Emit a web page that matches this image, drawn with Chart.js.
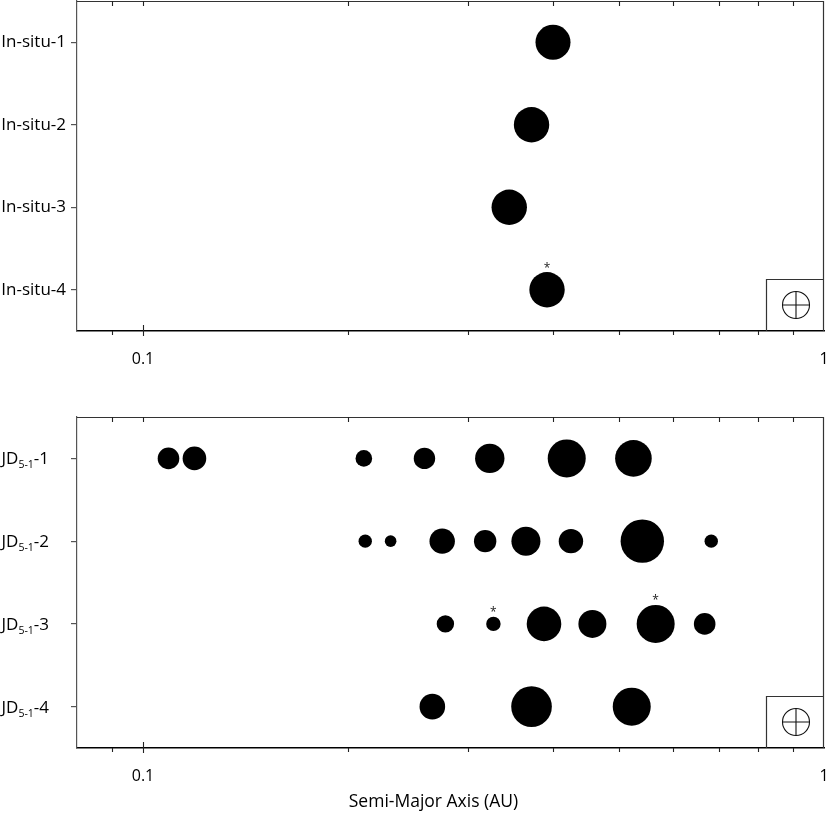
<!DOCTYPE html>
<html><head><meta charset="utf-8">
<script src="https://cdn.jsdelivr.net/npm/chart.js@4.4.0/dist/chart.umd.min.js"></script>
<style>
html,body{margin:0;padding:0;background:#fff;}
#wrap{position:relative;width:830px;height:820px;overflow:hidden;background:#fff;}
#c1{position:absolute;left:0;top:0;}
#c2{position:absolute;left:0;top:400px;}
</style></head><body>
<div id="wrap"><canvas id="c1" width="830" height="400"></canvas><canvas id="c2" width="830" height="420"></canvas></div>
<script>
// ---- DATA ----
const topCategories = ['In-situ-1', 'In-situ-2', 'In-situ-3', 'In-situ-4'];
// bottom labels: [main, subscript, suffix]
const bottomCategories = [['JD', '5-1', '-1'], ['JD', '5-1', '-2'], ['JD', '5-1', '-3'], ['JD', '5-1', '-4']];

// semi-major axis (AU) and relative planet size (bubble r)
const inSituA = [0.400, 0.372, 0.345, 0.392];
const inSituSize = [17.5, 17.7, 17.7, 17.7];
const inSituStar = [false, false, false, true];

const jd1A = [0.109, 0.119, 0.211, 0.259, 0.323, 0.419, 0.525];
const jd1Size = [10.8, 11.8, 8.3, 10.7, 14.7, 19.0, 18.3];
const jd2A = [0.212, 0.231, 0.275, 0.318, 0.365, 0.425, 0.541, 0.683];
const jd2Size = [6.7, 5.8, 12.7, 11.2, 14.5, 12.2, 21.7, 6.7];
const jd3A = [0.278, 0.327, 0.388, 0.457, 0.566, 0.668];
const jd3Size = [8.7, 7.2, 17.3, 14.0, 19.0, 10.8];
const jd3Star = [false, true, false, false, true, false];
const jd4A = [0.266, 0.372, 0.522];
const jd4Size = [12.8, 20.3, 19.0];

const xTickValues = [0.09, 0.1, 0.2, 0.3, 0.4, 0.5, 0.6, 0.7, 0.8, 0.9, 1];
const xMajorTicks = [0.1, 1];
const xTickLabels = {0.1: '0.1', 1: '1'};
const xTitle = 'Semi-Major Axis (AU)';

// ---- CHARTS ----
const FONT = '"Open Sans", "Noto Sans", sans-serif';

function pts(aArr, sArr, label) {
  return aArr.map((a, i) => ({x: a, y: label, r: sArr[i]}));
}

const decorPlugin = {
  id: 'decor',
  afterDraw(chart) {
    const ctx = chart.ctx, ca = chart.chartArea, xs = chart.scales.x;
    const cfg = chart.options.plugins.decor;
    ctx.save();
    // top & right border
    ctx.strokeStyle = '#333'; ctx.lineWidth = 1.2;
    ctx.beginPath();
    ctx.moveTo(ca.left, ca.top + 0.5); ctx.lineTo(ca.right, ca.top + 0.5);
    ctx.moveTo(ca.right - 0.5, ca.top); ctx.lineTo(ca.right - 0.5, ca.bottom);
    ctx.stroke();
    // x ticks (inward on top, outward on bottom)
    ctx.strokeStyle = '#222'; ctx.lineWidth = 1.1;
    ctx.beginPath();
    xTickValues.forEach(v => {
      if (v >= 1) return;
      const px = Math.round(xs.getPixelForValue(v)) + 0.5;
      const major = xMajorTicks.includes(v);
      ctx.moveTo(px, ca.top); ctx.lineTo(px, ca.top + 5);
      if (major) { ctx.moveTo(px, ca.bottom - 6); ctx.lineTo(px, ca.bottom + 5); }
      else { ctx.moveTo(px, ca.bottom); ctx.lineTo(px, ca.bottom + 4); }
    });
    ctx.stroke();
    // Earth symbol box
    const bw = 58, bh = 52;
    const bx = ca.right - bw, by = ca.bottom - bh;
    ctx.strokeStyle = '#333'; ctx.lineWidth = 1.2;
    ctx.beginPath();
    ctx.moveTo(bx + 0.5, ca.bottom); ctx.lineTo(bx + 0.5, by + 0.5); ctx.lineTo(ca.right, by + 0.5);
    ctx.stroke();
    const cx = bx + bw / 2 + 1, cy = by + bh / 2;
    const rr = 13.5;
    ctx.strokeStyle = '#111'; ctx.lineWidth = 1.1;
    ctx.beginPath(); ctx.arc(cx, cy, rr, 0, Math.PI * 2); ctx.stroke();
    ctx.beginPath();
    ctx.moveTo(cx - rr, cy); ctx.lineTo(cx + rr, cy);
    ctx.moveTo(cx, cy - rr); ctx.lineTo(cx, cy + rr);
    ctx.stroke();
    // asterisks
    ctx.fillStyle = '#222';
    ctx.font = '12px ' + FONT;
    ctx.textAlign = 'center'; ctx.textBaseline = 'alphabetic';
    const stars = cfg.stars || [];
    stars.forEach((flags, di) => {
      const meta = chart.getDatasetMeta(di);
      flags.forEach((f, j) => {
        if (!f) return;
        const el = meta.data[j];
        const r = el.options.radius;
        ctx.fillText('*', el.x, el.y - r - 0.5);
      });
    });
    // rich y labels (with subscript)
    const rich = cfg.richLabels;
    if (rich) {
      const ys = chart.scales.y;
      ctx.fillStyle = '#000';
      ctx.textAlign = 'left'; ctx.textBaseline = 'alphabetic';
      rich.forEach((parts, i) => {
        const yPix = ys.getPixelForTick(i);
        ctx.font = '17px ' + FONT;
        const w1 = ctx.measureText(parts[0]).width;
        const w3 = ctx.measureText(parts[2]).width;
        ctx.font = '10.5px ' + FONT;
        const w2 = ctx.measureText(parts[1]).width;
        const right = ys.right - 28;
        let x = right - (w1 + w2 + w3);
        const base = yPix + 6;
        ctx.font = '17px ' + FONT;
        ctx.fillText(parts[0], x, base); x += w1;
        ctx.font = '10.5px ' + FONT;
        ctx.fillText(parts[1], x, base + 4); x += w2;
        ctx.font = '17px ' + FONT;
        ctx.fillText(parts[2], x, base);
      });
    }
    // x-axis title (slightly left of the plot centre, as in the figure)
    if (cfg.title) {
      ctx.fillStyle = '#000';
      ctx.font = '17.5px ' + FONT;
      ctx.textAlign = 'center'; ctx.textBaseline = 'middle';
      ctx.fillText(cfg.title, (ca.left + ca.right) / 2 - 17, chart.height - 18);
    }
    ctx.restore();
  }
};

function makeOptions(opts) {
  return {
    responsive: false,
    animation: false,
    events: [],
    layout: {autoPadding: false, padding: {left: 0, right: 6, top: opts.padTop, bottom: 0}},
    plugins: {
      legend: {display: false},
      tooltip: {enabled: false},
      decor: {stars: opts.stars, richLabels: opts.richLabels, title: opts.title}
    },
    scales: {
      x: {
        type: 'logarithmic', min: 0.08, max: 1,
        afterBuildTicks: s => { s.ticks = xTickValues.map(v => ({value: v})); },
        afterFit: s => { s.height = opts.xHeight; s.paddingLeft = 0; s.paddingRight = 0; },
        grid: {display: false},
        border: {display: true, color: '#000', width: 1.5},
        ticks: {
          autoSkip: false, maxRotation: 0, padding: 11, color: '#000',
          font: {family: FONT, size: 16},
          callback: v => (xTickLabels[v] !== undefined ? xTickLabels[v] : '')
        },
        title: {display: false}
      },
      y: {
        type: 'category', labels: opts.labels, offset: true,
        afterFit: s => { s.width = 77; s.paddingTop = 0; s.paddingBottom = 0; },
        grid: {display: true, drawOnChartArea: false, drawTicks: true, tickLength: 6, color: '#555', lineWidth: 1.2},
        border: {display: true, color: '#555', width: 1.2},
        ticks: {
          padding: 5, color: '#000', font: {family: FONT, size: 17},
          callback: opts.richLabels ? (() => '') : ((v, i) => opts.labels[i])
        }
      }
    }
  };
}

const bubbleStyle = {backgroundColor: '#000', borderWidth: 0, hoverRadius: 0, hoverBorderWidth: 0};

new Chart(document.getElementById('c1'), {
  type: 'bubble',
  data: {
    datasets: [Object.assign({
      data: inSituA.map((a, i) => ({x: a, y: topCategories[i], r: inSituSize[i]}))
    }, bubbleStyle)]
  },
  options: makeOptions({padTop: 1, xHeight: 69, labels: topCategories, stars: [inSituStar], title: null}),
  plugins: [decorPlugin]
});

const bottomLabels = bottomCategories.map(p => p.join(''));
new Chart(document.getElementById('c2'), {
  type: 'bubble',
  data: {
    datasets: [
      Object.assign({data: pts(jd1A, jd1Size, bottomLabels[0])}, bubbleStyle),
      Object.assign({data: pts(jd2A, jd2Size, bottomLabels[1])}, bubbleStyle),
      Object.assign({data: pts(jd3A, jd3Size, bottomLabels[2])}, bubbleStyle),
      Object.assign({data: pts(jd4A, jd4Size, bottomLabels[3])}, bubbleStyle)
    ]
  },
  options: makeOptions({padTop: 17, xHeight: 72, labels: bottomLabels, stars: [[], [], jd3Star, []], richLabels: bottomCategories, title: xTitle}),
  plugins: [decorPlugin]
});
</script>
</body></html>
